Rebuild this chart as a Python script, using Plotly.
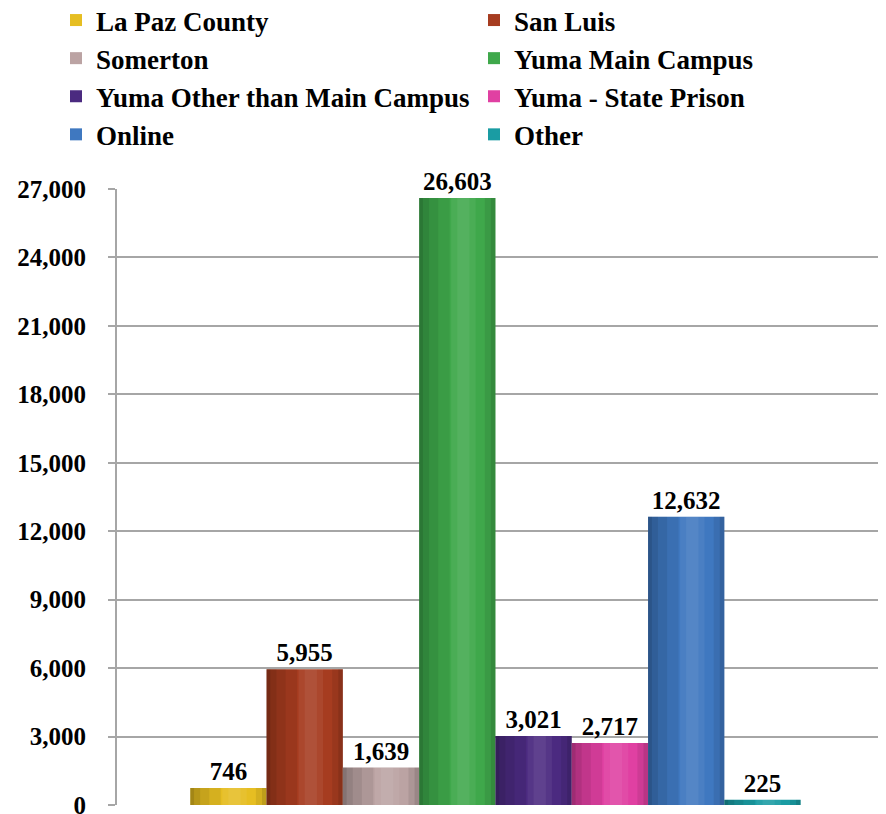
import plotly.graph_objects as go

campuses = ["La Paz County", "San Luis", "Somerton", "Yuma Main Campus",
            "Yuma Other than Main Campus", "Yuma - State Prison", "Online", "Other"]
enrollments = [746, 5955, 1639, 26603, 3021, 2717, 12632, 225]
colors = ["#E6BE22", "#A63C20", "#BBA3A3", "#3FA84B",
          "#4B2A80", "#E040A2", "#3F78C0", "#1A9CA3"]
tick_vals = [0, 3000, 6000, 9000, 12000, 15000, 18000, 21000, 24000, 27000]
tick_text = ["0", "3,000", "6,000", "9,000", "12,000", "15,000",
             "18,000", "21,000", "24,000", "27,000"]

FONT = "Liberation Serif"
# page body has an 8px margin, so the figure is drawn 8px in from the top-left
W, H = 878, 806
ML, MR, MT, MB = 109, 6, 181, 9
PW, PH = W - ML - MR, H - MT - MB

SLOT = 0.1          # width of each bar in category units
START = -0.404      # left edge of the first bar
# nested translucent strips that give a soft cylinder-like shading:
# (start fraction, end fraction, rgba overlay)
shading = [
    (0.00, 0.40, "rgba(0,0,0,0.07)"),
    (0.00, 0.25, "rgba(0,0,0,0.07)"),
    (0.00, 0.13, "rgba(0,0,0,0.08)"),
    (0.00, 0.05, "rgba(0,0,0,0.10)"),
    (0.42, 0.74, "rgba(255,255,255,0.06)"),
    (0.50, 0.66, "rgba(255,255,255,0.06)"),
    (0.86, 1.00, "rgba(0,0,0,0.08)"),
    (0.94, 1.00, "rgba(0,0,0,0.10)"),
]

fig = go.Figure()
for i, (name, val, col) in enumerate(zip(campuses, enrollments, colors)):
    left = START + i * SLOT
    fig.add_trace(go.Bar(
        x=[""], y=[val], name=name,
        offset=left, width=SLOT,
        marker=dict(color=col, line=dict(width=0)),
        text=[f"{val:,}"], textposition="outside",
        textfont=dict(family=FONT, size=25, color="black", weight="bold"),
        cliponaxis=False, legendrank=i,
    ))
for i, val in enumerate(enrollments):
    left = START + i * SLOT
    for a, b, rgba in shading:
        fig.add_trace(go.Bar(
            x=[""], y=[val], offset=left + a * SLOT, width=(b - a) * SLOT,
            marker=dict(color=rgba, line=dict(width=0)),
            showlegend=False, hoverinfo="skip",
        ))

fig.update_layout(
    width=W, height=H,
    barmode="overlay",
    paper_bgcolor="white", plot_bgcolor="white",
    margin=dict(l=ML, r=MR, t=MT, b=MB, autoexpand=False),
    font=dict(family=FONT, size=25, color="black"),
    legend=dict(
        orientation="h", xref="paper", yref="paper",
        x=(48 - ML) / PW, y=1 + (MT + 12) / PH, xanchor="left", yanchor="top",
        entrywidth=373, entrywidthmode="pixels",
        font=dict(family=FONT, size=27, color="black", weight="bold"),
        itemwidth=30, tracegroupgap=0, bgcolor="rgba(0,0,0,0)",
    ),
    showlegend=True,
)
fig.update_xaxes(range=[-0.5, 0.5], showticklabels=False, showgrid=False,
                 zeroline=False, showline=False)
fig.update_yaxes(
    range=[0, 27000], tickvals=tick_vals, ticktext=tick_text,
    tickfont=dict(family=FONT, size=25, color="black", weight="bold"),
    showgrid=True, gridcolor="#A6A6A6", gridwidth=2,
    showline=True, linecolor="#A6A6A6", linewidth=2,
    ticks="outside", ticklen=7, tickcolor="#A6A6A6", tickwidth=2,
    zeroline=False, ticklabelstandoff=17, ticklabeloverflow="allow",
)

fig.write_html("out.html")
